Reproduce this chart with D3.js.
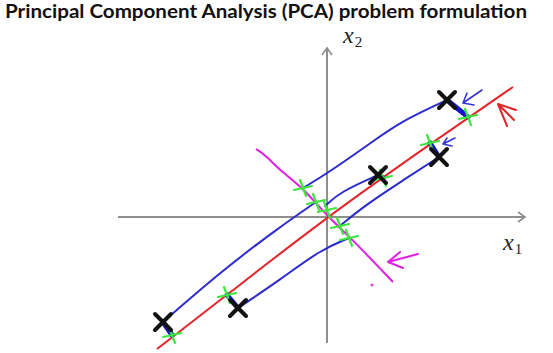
<!DOCTYPE html>
<html>
<head>
<meta charset="utf-8">
<script src="https://cdn.jsdelivr.net/npm/d3@7"></script>
<style>
body { margin: 0; background: #fff; }
svg { display: block; }
</style>
</head>
<body>
<div id="chart-area"></div>
<script>

// values, in "slide units" (origin = crossing of the axes)
let xAxisExtent = [-4.18, 3.96];
let yAxisExtent = [-2.52, 3.38];

// the five examples (black crosses)
let samples = [[2.40, 2.34], [2.24, 1.20], [1.02, 0.84], [-3.28, -2.10], [-1.78, -1.82]];
// their projections onto the red line
let redProj = [[2.82, 2.00], [2.06, 1.48], [1.12, 0.78], [-3.10, -2.36], [-2.00, -1.56]];
// their projections onto the magenta line
let magentaProj = [[-0.48, 0.58], [0.26, -0.18], [0.00, 0.14], [-0.22, 0.30], [0.44, -0.42]];

let redLine = [[-3.40, -2.64], [-2.00, -1.56], [-0.14, -0.10], [2.12, 1.50], [3.72, 2.60]];
let magentaLine = [[-1.42, 1.36], [-1.26, 1.26], [-0.88, 0.88], [-0.48, 0.58], [0.02, 0.00], [0.46, -0.40], [1.32, -1.30]];

// long blue strokes from each example to the magenta line
let blueLines = [
	[[2.40, 2.34], [1.46, 1.90], [0.96, 1.54], [0.02, 0.88], [-0.48, 0.58]],
	[[2.24, 1.20], [1.50, 0.72], [0.80, 0.26], [0.28, -0.16]],
	[[1.02, 0.84], [0.26, 0.50], [-0.04, 0.22]],
	[[-3.28, -2.10], [-2.08, -1.06], [-1.00, -0.24], [-0.22, 0.30]],
	[[-1.78, -1.82], [-0.94, -1.26], [-0.14, -0.66], [0.44, -0.42]]
];

// hand drawn arrows: [tip, shaft end, arm 1, arm 2]
let blueArrows = [
	[[2.72, 2.28], [3.10, 2.54], [2.80, 2.48], [2.94, 2.24]],
	[[2.32, 1.46], [2.56, 1.58], [2.40, 1.58], [2.50, 1.42]]
];
let redArrow = [[3.42, 2.26], [3.74, 1.94], [3.78, 2.14], [3.60, 1.82]];
let magentaArrow = [[1.22, -0.90], [1.82, -0.74], [1.46, -0.70], [1.52, -1.02]];
let magentaDot = [0.90, -1.36];

let x1Label = [3.52, -0.66];
let x2Label = [0.32, 3.48];

let titleText = "Principal Component Analysis (PCA) problem formulation";

let W = 553, H = 353;

let svg = d3.select("#chart-area").append("svg")
	.attr("width", W)
	.attr("height", H);

// 50px per unit, origin at (327, 217)
let x = d3.scaleLinear().domain([-4, 4]).range([127, 527]);
let y = d3.scaleLinear().domain([-2, 2]).range([317, 117]);

let line = d3.line().x(d => x(d[0])).y(d => y(d[1]));
let smooth = d3.line().curve(d3.curveBasis).x(d => x(d[0])).y(d => y(d[1]));

// title
svg.append("text")
	.attr("x", 5).attr("y", 18)
	.attr("font-family", "Lato, 'Open Sans', sans-serif")
	.attr("font-weight", "bold")
	.attr("font-size", 18)
	.attr("textLength", 522)
	.attr("lengthAdjust", "spacingAndGlyphs")
	.attr("fill", "#111")
	.text(titleText);

// axes
let axisColor = "#8e8e8e";
let axes = svg.append("g").attr("stroke", axisColor).attr("stroke-width", 2).attr("fill", "none");
axes.append("path").attr("d", line([[xAxisExtent[0], 0], [xAxisExtent[1], 0]]));
axes.append("path").attr("d", line([[0, yAxisExtent[0]], [0, yAxisExtent[1]]]));
// arrow heads
let xt = x(xAxisExtent[1]), yt = y(yAxisExtent[1]);
axes.append("path").attr("d", `M${xt - 7},${y(0) - 5}L${xt},${y(0)}L${xt - 7},${y(0) + 5}`).attr("stroke-width", 1.6);
axes.append("path").attr("d", `M${x(0) - 5},${yt + 7}L${x(0)},${yt}L${x(0) + 5},${yt + 7}`).attr("stroke-width", 1.6);

// axis labels
function axisLabel(pos, sub) {
	let t = svg.append("text")
		.attr("x", x(pos[0])).attr("y", y(pos[1]))
		.attr("font-family", "'Liberation Serif', 'DejaVu Serif', serif")
		.attr("fill", "#222");
	t.append("tspan").attr("font-style", "italic").attr("font-size", 24).text("x");
	t.append("tspan").attr("font-size", 15).attr("dx", 1).attr("dy", 4).text(sub);
}
axisLabel(x1Label, "1");
axisLabel(x2Label, "2");

// magenta line
svg.append("path").attr("d", smooth(magentaLine))
	.attr("fill", "none").attr("stroke", "#e21ee2").attr("stroke-width", 2);

// long blue projections
svg.selectAll(".blue-line").data(blueLines).enter().append("path")
	.attr("class", "blue-line")
	.attr("d", d => smooth(d))
	.attr("fill", "none").attr("stroke", "#2b2bd0").attr("stroke-width", 2)
	.attr("stroke-linecap", "round");

// red line
svg.append("path").attr("d", smooth(redLine))
	.attr("fill", "none").attr("stroke", "#e5242a").attr("stroke-width", 2);

// short thick blue projections onto red
svg.selectAll(".short-proj").data(samples).enter().append("path")
	.attr("class", "short-proj")
	.attr("d", (d, i) => line([d, redProj[i]]))
	.attr("stroke", "#1414c8").attr("stroke-width", 5).attr("stroke-linecap", "round");

// green marks
function greenMark(g, d) {
	let cx = x(d[0]), cy = y(d[1]);
	g.append("path")
		.attr("d", `M${cx - 9},${cy + 2}L${cx + 9},${cy - 2}M${cx - 3},${cy - 8}L${cx + 3},${cy + 8}`)
		.attr("stroke", "#3be83b").attr("stroke-width", 2.2).attr("fill", "none")
		.attr("stroke-linecap", "round");
}
let greens = svg.append("g");
redProj.forEach(d => greenMark(greens, d));
magentaProj.forEach(d => greenMark(greens, d));

// black crosses
svg.selectAll(".sample").data(samples).enter().append("path")
	.attr("class", "sample")
	.attr("d", d => {
		let cx = x(d[0]), cy = y(d[1]), r = 8;
		return `M${cx - r},${cy - r}L${cx + r},${cy + r}M${cx - r},${cy + r}L${cx + r},${cy - r}`;
	})
	.attr("stroke", "#111").attr("stroke-width", 4).attr("stroke-linecap", "round");

// arrows
function arrow(a, color, w) {
	svg.append("path")
		.attr("d", line([a[1], a[0]]) + line([a[2], a[0], a[3]]))
		.attr("fill", "none").attr("stroke", color).attr("stroke-width", w)
		.attr("stroke-linecap", "round").attr("stroke-linejoin", "round");
}
blueArrows.forEach(a => arrow(a, "#3535d8", 1.6));
arrow(redArrow, "#e5242a", 2);
arrow(magentaArrow, "#e21ee2", 2);

svg.append("circle")
	.attr("cx", x(magentaDot[0])).attr("cy", y(magentaDot[1]))
	.attr("r", 1.5).attr("fill", "#d24bd2");

</script>
</body>
</html>
